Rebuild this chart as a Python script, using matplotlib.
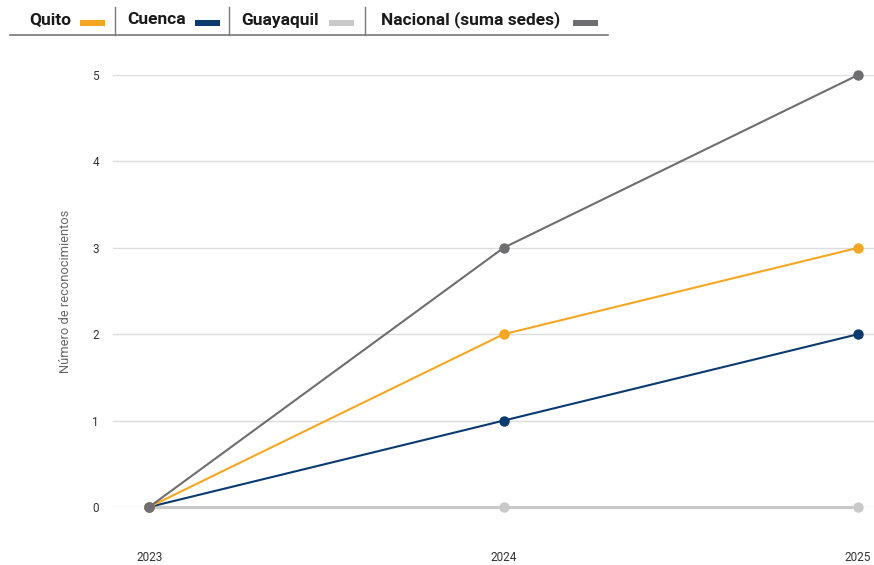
import matplotlib
matplotlib.use("Agg")
import matplotlib.pyplot as plt
from matplotlib.lines import Line2D
from matplotlib.patches import Rectangle

years = [2023, 2024, 2025]
quito = [0, 2, 3]
cuenca = [0, 1, 2]
guayaquil = [0, 0, 0]
nacional = [0, 3, 5]
series_names = ["Quito", "Cuenca", "Guayaquil", "Nacional (suma sedes)"]
colors = ["#F5A623", "#0B3A6F", "#C9C9C9", "#6E6E70"]

plt.rcParams['font.family'] = ['Roboto', 'DejaVu Sans']

W, H = 874, 565
fig = plt.figure(figsize=(W/100, H/100), dpi=100)
ax_l, ax_r, ax_t, ax_b = 113, 874, 75, 507
ax = fig.add_axes([ax_l/W, 1-ax_b/H, (ax_r-ax_l)/W, (ax_b-ax_t)/H])

ax.set_xlim(2022.898, 2025.045)
ax.set_ylim(0, 5)
for s in ax.spines.values():
    s.set_visible(False)
ax.set_yticks(range(6))
ax.yaxis.grid(True, color="#DCDCDC", linewidth=1)
ax.set_axisbelow(True)
ax.tick_params(axis='y', length=0, pad=10, labelsize=8.5, labelcolor="#333333")
ax.set_xticks(years)
ax.set_xticklabels([str(y) for y in years])
ax.tick_params(axis='x', length=0, pad=32, labelsize=8.5, labelcolor="#333333")
ax.set_ylabel("Número de reconocimientos", fontsize=9.3, color="#666666", labelpad=15)

data = [quito, cuenca, guayaquil, nacional]
order = [2, 1, 0, 3]
for i in order:
    lw = 2.2 if i == 2 else 1.5
    ax.plot(years, data[i], color=colors[i], linewidth=lw, marker='o', markersize=7.5,
            markeredgewidth=0, clip_on=False, zorder=3 + (i == 3))

# Legend header
y_leg = 1 - 20/H
text_x = [29, 127, 241, 381]
sw_x = [80, 195, 329, 573]
for name, tx, sx, c in zip(series_names, text_x, sw_x, colors):
    fig.text(tx/W, y_leg, name, fontsize=12.5, fontweight='bold', color="#1a1a1a",
             va='center', ha='left')
    fig.patches.append(Rectangle((sx/W, 1-26/H), 25/W, 6/H, transform=fig.transFigure,
                                 facecolor=c, edgecolor='none'))
fig.add_artist(Line2D([10/W, 608/W], [1-35/H, 1-35/H], color="#777777", linewidth=1.2))
for vx in [115, 229, 365]:
    fig.add_artist(Line2D([vx/W, vx/W], [1-7/H, 1-35/H], color="#777777", linewidth=1))

fig.savefig("out.png", dpi=100, facecolor="white")
